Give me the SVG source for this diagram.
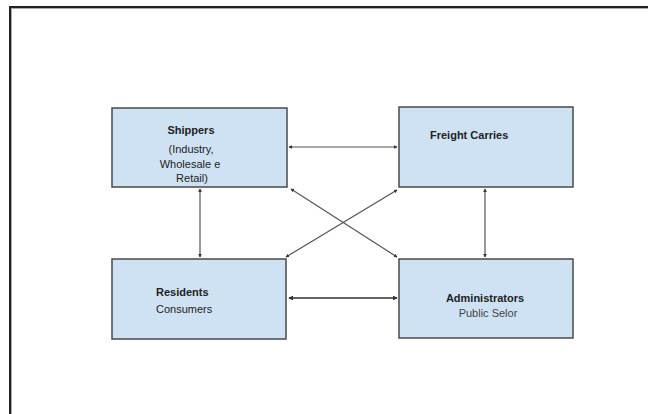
<svg xmlns="http://www.w3.org/2000/svg" width="648" height="414" viewBox="0 0 648 414">
<defs>
<marker id="ah" viewBox="0 0 6 6" refX="5" refY="3" markerWidth="3" markerHeight="3" orient="auto-start-reverse">
<path d="M0,0 L6,3 L0,6 z" fill="#333"/>
</marker>
<style>
.box{fill:#cfe2f3;stroke:#4a4a4a;stroke-width:1.5}
.t{font-family:"Liberation Sans",Arial,sans-serif;font-size:11px;fill:#222}
.b{font-weight:bold}
.c{stroke:#555;stroke-width:1.2;fill:none;marker-start:url(#ah);marker-end:url(#ah)}
</style>
</defs>
<rect x="0" y="0" width="648" height="414" fill="#fff"/>
<rect x="10" y="7" width="700" height="500" fill="none" stroke="#222" stroke-width="2"/>
<line x1="11.5" y1="9" x2="11.5" y2="414" stroke="#aaa" stroke-width="1"/>
<line x1="11" y1="8.5" x2="648" y2="8.5" stroke="#aaa" stroke-width="1"/>
<g id="connectors">
<line class="c" x1="289" y1="147" x2="397" y2="147"/>
<line class="c" x1="289" y1="298" x2="397" y2="298" style="stroke-width:1.6;stroke:#333"/>
<line class="c" x1="200" y1="189" x2="200" y2="257"/>
<line class="c" x1="485" y1="189" x2="485" y2="257"/>
<line class="c" x1="291" y1="189" x2="397" y2="257"/>
<line class="c" x1="286" y1="257" x2="397" y2="190"/>
</g>
<g id="shippers">
<rect class="box" x="112" y="108" width="175" height="79"/>
<text class="t b" x="191" y="134" text-anchor="middle">Shippers</text>
<text class="t" x="191" y="153" text-anchor="middle">(Industry,</text>
<text class="t" x="190" y="168" text-anchor="middle">Wholesale e</text>
<text class="t" x="192" y="182" text-anchor="middle">Retail)</text>
</g>
<g id="freight">
<rect class="box" x="399" y="107" width="174" height="80"/>
<text class="t b" x="430" y="139">Freight Carries</text>
</g>
<g id="residents">
<rect class="box" x="112" y="259" width="174" height="80"/>
<text class="t b" x="156" y="296">Residents</text>
<text class="t" x="156" y="313">Consumers</text>
</g>
<g id="administrators">
<rect class="box" x="399" y="259" width="174" height="79"/>
<text class="t b" x="485" y="302" text-anchor="middle">Administrators</text>
<text class="t" x="488" y="317" text-anchor="middle" style="fill:#444">Public Selor</text>
</g>
</svg>
